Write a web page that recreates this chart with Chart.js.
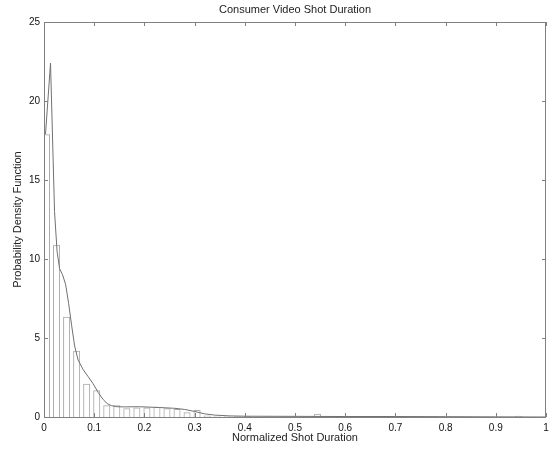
<!DOCTYPE html>
<html>
<head>
<meta charset="utf-8">
<script src="https://cdn.jsdelivr.net/npm/chart.js@4/dist/chart.umd.min.js"></script>
<style>
  html, body { margin: 0; padding: 0; background: #fff; }
  #wrap { width: 556px; height: 451px; }
</style>
</head>
<body>
<div id="wrap"><canvas id="c" width="556" height="451"></canvas></div>
<script>
// ---- data ----
const chartTitle = "Consumer Video Shot Duration";
const xTitle = "Normalized Shot Duration";
const yTitle = "Probability Density Function";

// histogram bin centres and heights
const binCenters = [0.005,0.025,0.045,0.065,0.085,0.105,0.125,0.145,0.165,0.185,
                    0.205,0.225,0.245,0.265,0.285,0.305,0.325,0.345,0.365,0.385,
                    0.405,0.425,0.445,0.465,0.485,0.505,0.525,0.545,0.565,0.585,
                    0.605,0.625,0.645,0.665,0.685,0.705,0.725,0.745,0.765,0.785,
                    0.805,0.825,0.845,0.865,0.885,0.905,0.925,0.945,0.965,0.985];
const binHeights = [17.9,10.9,6.35,4.2,2.1,1.7,0.75,0.75,0.55,0.6,
                    0.6,0.65,0.55,0.5,0.3,0.45,0.1,0.05,0.05,0.04,
                    0.06,0.05,0.05,0.03,0.03,0.02,0.02,0.2,0.02,0.02,
                    0.05,0.03,0.04,0.04,0.04,0.02,0.02,0.05,0.02,0.02,
                    0.03,0.03,0.03,0,0,0,0,0.08,0,0];

// estimated density curve
const curveX = [0.003,0.013,0.021,0.026,0.031,0.037,0.043,0.049,0.055,0.061,0.068,0.078,0.088,0.098,0.108,0.118,0.126,0.134,0.145,0.16,0.19,0.23,0.26,0.28,0.3,0.32,0.34,0.37,0.4,0.5,0.6,0.7,0.8,0.9,1.0];
const curveY = [17.9,22.4,13.0,10.5,9.4,9.0,8.4,7.2,5.8,4.5,3.6,3.0,2.55,2.1,1.55,1.1,0.85,0.72,0.65,0.64,0.65,0.6,0.55,0.48,0.35,0.2,0.12,0.07,0.05,0.04,0.03,0.03,0.02,0.01,0.0];

const xTicks = [0,0.1,0.2,0.3,0.4,0.5,0.6,0.7,0.8,0.9,1];
const yTicks = [0,5,10,15,20,25];

// ---- chart ----
const axisColor = '#808080';
const boxPlugin = {
  id: 'matlabBox',
  afterDraw(chart) {
    const {ctx, chartArea: a, scales} = chart;
    ctx.save();
    ctx.strokeStyle = axisColor;
    ctx.lineWidth = 1;
    ctx.strokeRect(Math.round(a.left) + 0.5, Math.round(a.top) + 0.5,
                   Math.round(a.right - a.left) - 1, Math.round(a.bottom - a.top));
    const tl = 4;
    ctx.beginPath();
    xTicks.forEach(v => {
      const px = Math.round(scales.x.getPixelForValue(v)) + 0.5;
      ctx.moveTo(px, a.bottom); ctx.lineTo(px, a.bottom - tl);
      ctx.moveTo(px, a.top); ctx.lineTo(px, a.top + tl);
    });
    yTicks.forEach(v => {
      const py = Math.round(scales.y.getPixelForValue(v)) + 0.5;
      ctx.moveTo(a.left, py); ctx.lineTo(a.left + tl, py);
      ctx.moveTo(a.right, py); ctx.lineTo(a.right - tl, py);
    });
    ctx.stroke();
    // title
    ctx.fillStyle = '#222';
    ctx.font = '11px "Liberation Sans", Arial, sans-serif';
    ctx.textAlign = 'center';
    ctx.textBaseline = 'middle';
    ctx.fillText(chartTitle, (a.left + a.right) / 2, 10);
    ctx.restore();
  }
};

new Chart(document.getElementById('c'), {
  type: 'bar',
  data: {
    datasets: [
      {
        type: 'line',
        label: 'density',
        data: curveX.map((x, i) => ({x, y: curveY[i]})),
        borderColor: '#707070',
        borderWidth: 1,
        pointRadius: 0,
        tension: 0,
        fill: false,
        order: 0
      },
      {
        type: 'bar',
        label: 'histogram',
        data: binCenters.map((x, i) => ({x, y: binHeights[i]})),
        backgroundColor: 'rgba(255,255,255,0)',
        borderColor: '#ababab',
        borderWidth: 1,
        barPercentage: 0.7,
        categoryPercentage: 1.0,
        order: 1
      }
    ]
  },
  options: {
    responsive: false,
    animation: false,
    devicePixelRatio: 1,
    layout: { padding: { top: 22, right: 10, left: 0, bottom: 0 } },
    plugins: { legend: { display: false }, tooltip: { enabled: false } },
    scales: {
      x: {
        type: 'linear',
        min: 0, max: 1,
        offset: false,
        grid: { display: false, drawTicks: false },
        border: { display: false },
        afterFit(s) { s.height = 34; },
        afterBuildTicks(s) { s.ticks = xTicks.map(v => ({value: v})); },
        ticks: {
          padding: 5,
          color: '#111',
          font: { family: '"Liberation Sans", Arial, sans-serif', size: 10 },
          maxRotation: 0,
          autoSkip: false,
          callback: v => String(Math.round(v * 10) / 10)
        },
        title: {
          display: true, text: xTitle, color: '#222',
          font: { family: '"Liberation Sans", Arial, sans-serif', size: 11 },
          padding: { top: 0, bottom: 6 }
        }
      },
      y: {
        min: 0, max: 25,
        grid: { display: false, drawTicks: false },
        border: { display: false },
        afterFit(s) { s.width = 44; },
        afterBuildTicks(s) { s.ticks = yTicks.map(v => ({value: v})); },
        ticks: {
          padding: 4,
          color: '#111',
          font: { family: '"Liberation Sans", Arial, sans-serif', size: 10 },
          callback: v => String(v)
        },
        title: {
          display: true, text: yTitle, color: '#222',
          font: { family: '"Liberation Sans", Arial, sans-serif', size: 11 },
          padding: { top: 11, bottom: 0 }
        }
      }
    }
  },
  plugins: [boxPlugin]
});
</script>
</body>
</html>
